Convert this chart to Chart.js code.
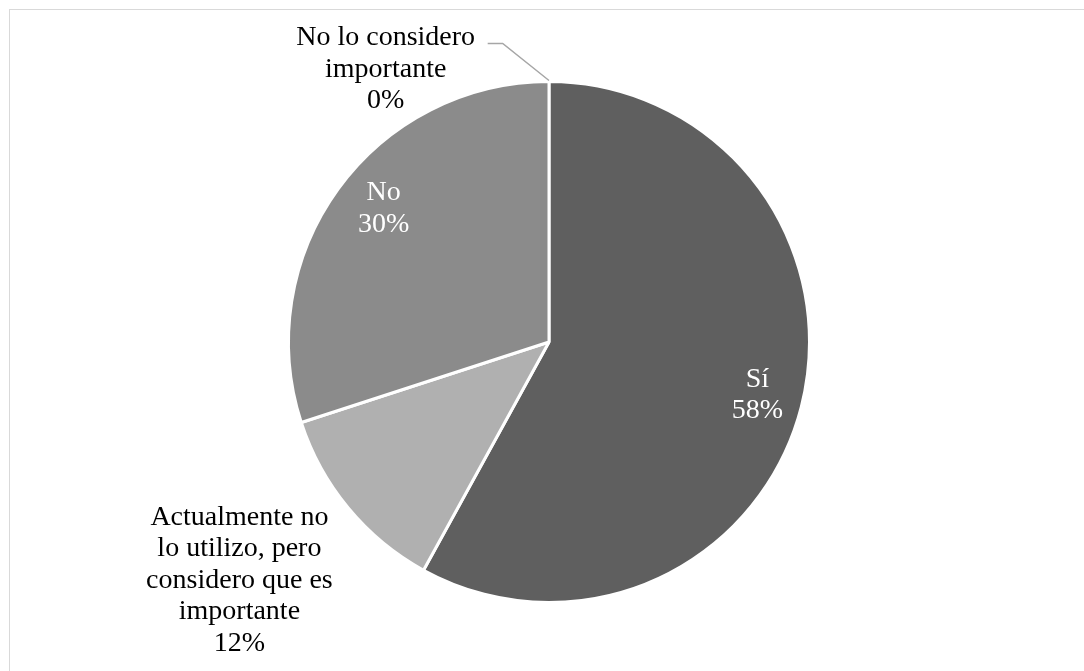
<!DOCTYPE html>
<html>
<head>
<meta charset="utf-8">
<script src="https://cdn.jsdelivr.net/npm/chart.js@4/dist/chart.umd.min.js"></script>
<style>
html,body{margin:0;padding:0;background:#fff;}
#wrap{position:relative;width:1084px;height:671px;overflow:hidden;}
#frame{position:absolute;left:9px;top:9px;width:1200px;height:800px;border:1px solid #d9d9d9;box-sizing:border-box;}
canvas{position:absolute;left:0;top:0;}
</style>
</head>
<body>
<div id="wrap">
<div id="frame"></div>
<canvas id="c" width="1084" height="671"></canvas>
</div>
<script>
const categories = ["Sí", "Actualmente no lo utilizo, pero considero que es importante", "No", "No lo considero importante"];
const values = [58, 12, 30, 0];
const percentLabels = ["58%", "12%", "30%", "0%"];
const labelLines = [["Sí"], ["Actualmente no", "lo utilizo, pero", "considero que es", "importante"], ["No"], ["No lo considero", "importante"]];
const colors = ["#5f5f5f", "#b0b0b0", "#8b8b8b", "#a5a5a5"];

const FONT = '28px "Liberation Serif", "Times New Roman", serif';
const LH = 31.5;
// label centre offsets from pie centre, in units of the radius (260px)
const labelOffsets = [[208, 53], [-309, 238], [-165, -133], [-163, -272]];
const labelColors = ['#ffffff', '#000000', '#ffffff', '#000000'];

const labelPlugin = {
  id: 'pieLabels',
  afterDatasetsDraw(chart) {
    const ctx = chart.ctx;
    const meta = chart.getDatasetMeta(0);
    const arc0 = meta.data[0];
    const cx = arc0.x, cy = arc0.y, R = arc0.outerRadius;
    const k = R / 260;
    ctx.save();
    ctx.font = FONT;
    ctx.textAlign = 'center';
    ctx.textBaseline = 'middle';
    meta.data.forEach((arc, i) => {
      const lines = labelLines[i].concat([percentLabels[i]]);
      const x = cx + labelOffsets[i][0] * k;
      const y = cy + labelOffsets[i][1] * k;
      if (i === 3) {
        ctx.strokeStyle = '#a6a6a6';
        ctx.lineWidth = 1.5;
        ctx.beginPath();
        ctx.moveTo(x + 102, y - 26);
        ctx.lineTo(x + 117, y - 26);
        const a = arc.startAngle;
        ctx.lineTo(cx + Math.cos(a) * R, cy + Math.sin(a) * R - 1);
        ctx.stroke();
      }
      ctx.fillStyle = labelColors[i];
      const top = y - (lines.length - 1) * LH / 2;
      lines.forEach((t, j) => ctx.fillText(t, x, top + j * LH));
    });
    ctx.restore();
  }
};

new Chart(document.getElementById('c'), {
  type: 'pie',
  data: {
    labels: categories,
    datasets: [{
      data: values,
      backgroundColor: colors,
      borderColor: '#ffffff',
      borderWidth: 3
    }]
  },
  options: {
    responsive: false,
    animation: false,
    layout: { padding: { left: 287, right: 273, top: 80, bottom: 67 } },
    plugins: { legend: { display: false }, tooltip: { enabled: false } }
  },
  plugins: [labelPlugin]
});
</script>
</body>
</html>
